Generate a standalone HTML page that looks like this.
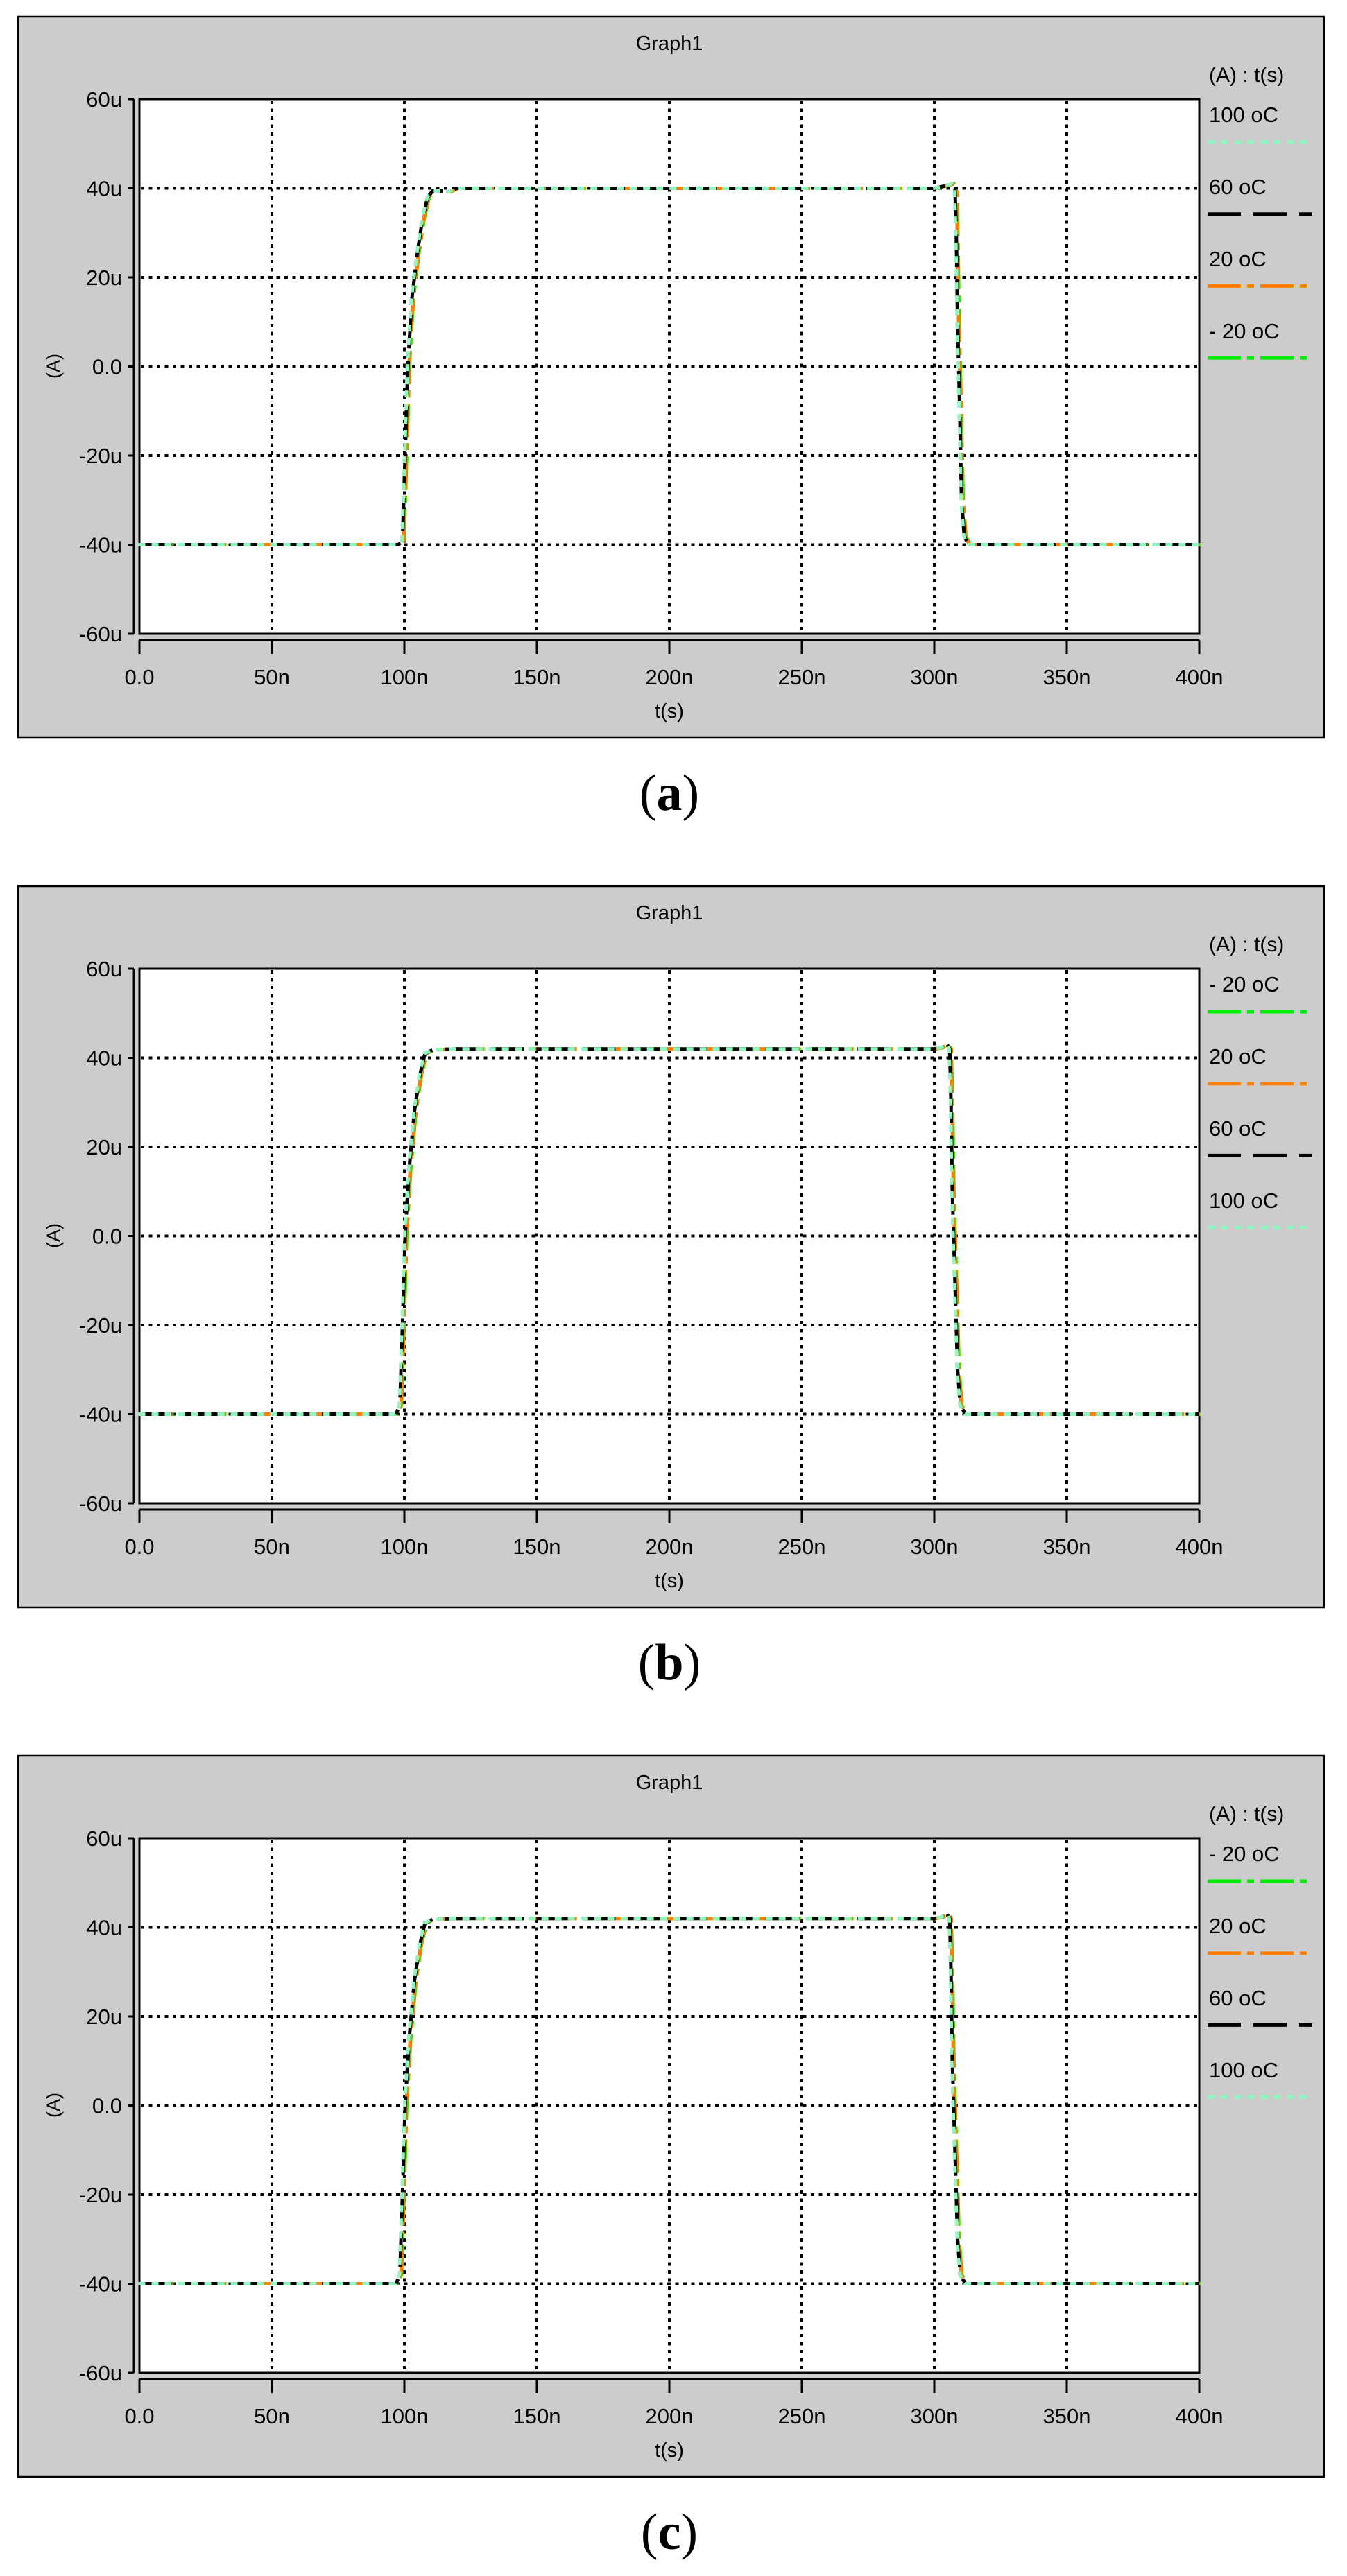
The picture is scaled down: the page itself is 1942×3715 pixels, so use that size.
<!DOCTYPE html>
<html><head><meta charset="utf-8"><style>
html,body{margin:0;padding:0;background:#fff;}
svg{display:block;}
text{font-family:"Liberation Sans",Arial,sans-serif;fill:#000;}
</style></head><body>
<svg id="s" width="1942" height="3715" viewBox="0 0 1942 3715" xmlns="http://www.w3.org/2000/svg"></svg>
<script>
const S=document.getElementById('s');
let h='';
const X=t=>201+t*1528/400;
function panel(T,lbl,dataA,legOrder){
  const Y=v=>T+120+(60-v)*771/120;
  h+=`<rect x="26" y="${T+1}" width="1883" height="1040" fill="#cccccc" stroke="#000" stroke-width="2.5"/>`;
  h+=`<rect x="201" y="${T+120}" width="1528" height="771" fill="#fff" stroke="#000" stroke-width="3"/>`;
  for(let i=1;i<8;i++){const x=X(i*50);h+=`<line x1="${x}" y1="${T+122}" x2="${x}" y2="${T+889}" stroke="#000" stroke-width="4" stroke-dasharray="5 6.5"/>`;}
  for(let i=1;i<6;i++){const y=T+120+i*771/6;h+=`<line x1="203" y1="${y}" x2="1727" y2="${y}" stroke="#000" stroke-width="4" stroke-dasharray="5 6.5"/>`;}
  h+=`<line x1="193" y1="${T+120}" x2="193" y2="${T+891}" stroke="#000" stroke-width="3"/>`;
  h+=`<line x1="201" y1="${T+900}" x2="1729" y2="${T+900}" stroke="#000" stroke-width="3"/>`;
  const yl=['60u','40u','20u','0.0','-20u','-40u','-60u'];
  for(let i=0;i<7;i++){const y=T+120+i*771/6;h+=`<line x1="184" y1="${y}" x2="193" y2="${y}" stroke="#000" stroke-width="3"/>`;
    h+=`<text x="176" y="${y+11}" font-size="31" text-anchor="end">${yl[i]}</text>`;}
  const xl=['0.0','50n','100n','150n','200n','250n','300n','350n','400n'];
  for(let i=0;i<9;i++){const x=X(i*50);h+=`<line x1="${x}" y1="${T+900}" x2="${x}" y2="${T+920}" stroke="#000" stroke-width="3"/>`;
    h+=`<text x="${x}" y="${T+964}" font-size="31" text-anchor="middle">${xl[i]}</text>`;}
  h+=`<text x="965" y="${T+1012}" font-size="29" text-anchor="middle">t(s)</text>`;
  h+=`<text x="965" y="${T+49}" font-size="29" text-anchor="middle">Graph1</text>`;
  h+=`<text transform="translate(86 ${T+505}) rotate(-90)" font-size="27" text-anchor="middle">(A)</text>`;
  h+=`<text x="1743" y="${T+95}" font-size="30">(A) : t(s)</text>`;
  const st={'100':['#8ef7c0','10 9'],'60':['#000','48 18'],'20':['#ff8000','48 9 10 9'],'-20':['#00ee00','48 9 10 9']};
  const nm={'100':'100 oC','60':'60 oC','20':'20 oC','-20':'- 20 oC'};
  legOrder.forEach((k,i)=>{const ty=T+153+i*104, ly=T+182+i*103.7;
    h+=`<text x="1743" y="${ty}" font-size="31">${nm[k]}</text>`;
    h+=`<line x1="1741" y1="${ly}" x2="${k=='60'?1892:1887}" y2="${ly}" stroke="${st[k][0]}" stroke-width="5" stroke-dasharray="${st[k][1]}"/>`;});
  ['-20','20','60','100'].forEach((k,j)=>{
    const off=[0.4,0.2,-0.2,-0.4][j];
    const pts=dataA.map(p=>`${X(p[0]+off).toFixed(1)},${Y(p[1]).toFixed(1)}`).join(' ');
    h+=`<polyline points="${pts}" fill="none" stroke="${st[k][0]}" stroke-width="5" stroke-dasharray="${st[k][1]}"/>`;});
  h+=`<text x="965" y="${T+1145}" font-size="74" text-anchor="middle" style="font-family:'Liberation Serif',serif">(<tspan font-weight="bold">${lbl}</tspan>)</text>`;
}
const A=[[0,-40],[98,-40],[99.5,-39],[100.5,-20],[101.5,0],[103,15],[105,25],[107,33],[109,38],[111,39.5],[114,39.4],[117,39.2],[120,40],[300,40],[304,40.5],[307,41],[308,40],[308.5,30],[309,10],[309.8,-10],[310.5,-30],[311.5,-38],[313,-40],[400,-40]];
const B=[[0,-40],[97,-40],[98.5,-38],[99.5,-20],[100.5,0],[102,15],[104,28],[106,36],[108,41],[111,41.8],[120,42],[300,42],[303,42.3],[305,43],[306,42],[306.5,30],[307,10],[308,-10],[309,-30],[310,-38],[312,-40],[400,-40]];
panel(23,'a',A,['100','60','20','-20']);
panel(1277,'b',B,['-20','20','60','100']);
panel(2531,'c',B,['-20','20','60','100']);
S.innerHTML=h;
</script>
</body></html>
